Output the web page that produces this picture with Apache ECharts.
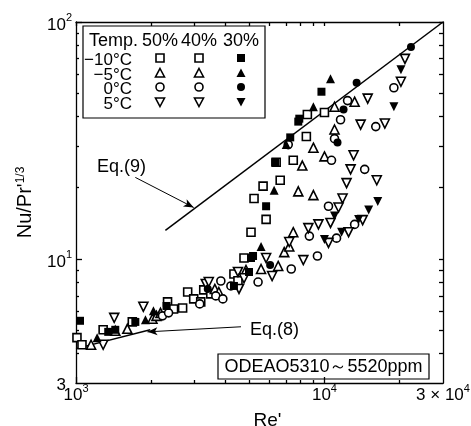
<!DOCTYPE html>
<html><head><meta charset="utf-8">
<script src="https://cdn.jsdelivr.net/npm/echarts@6/dist/echarts.min.js"></script>
<style>html,body{margin:0;padding:0;background:#fff}#c{width:471px;height:426px}</style>
</head><body><div id="c"></div>
<script>
// ---- axis ticks / labels ----
const xMajor = [1000, 10000];
const xMinor = [2000, 3000, 4000, 5000, 6000, 7000, 8000, 9000, 20000];
const xLabelVals = [1000, 10000, 30000];
const yMajor = [10, 100];
const yMinor = [4, 5, 6, 7, 8, 9, 20, 30, 40, 50, 60, 70, 80, 90];
const yLabelVals = [3, 10, 100];

// ---- legend content ----
const tempLabels = ['\u221210\u00b0C', '\u22125\u00b0C', '0\u00b0C', '5\u00b0C'];
const concLabels = ['50%', '40%', '30%'];

// ---- data [Re', Nu/Pr'^(1/3)] ----
// -10 °C, 50 % / 40 % (open squares)
const sqOpen = [[1009,4.66],[1057,4.35],[1286,5.03],[1685,5.43],[2336,6.60],[2470,6.16],[2686,6.22],[2815,7.26],[2977,6.79],[3177,6.60],[3267,7.41],[3487,7.13],[4322,8.65],[4486,8.1],[4744,10.1],[5063,12.98],[5207,18.0],[5662,20.3],[5823,14.7],[6392,25.6],[6635,21.5],[7489,26.1],[8455,32.9],[8535,40.7],[10000,41.5]];
// -10 °C, 30 % (filled squares)
const sqFilled = [[1038,5.49],[1348,4.93],[1439,5.03],[1733,5.43],[2314,6.34],[4322,7.70],[4970,8.82],[5063,10.1],[5159,10.3],[5823,16.7],[6333,25.6],[7282,32.6],[7846,38.0],[7920,39.1],[9725,50.8]];
// -5 °C, 50 % / 40 % (open triangles)
const triOpen = [[1150,4.35],[1439,4.98],[1609,5.08],[2031,5.60],[2108,5.76],[2188,5.93],[3620,7.48],[3758,7.26],[4833,8.99],[5557,9.08],[6513,9.35],[6887,10.7],[7215,11.3],[7489,12.98],[7846,19.3],[8144,24.8],[9026,29.5],[9026,18.6],[10000,27.1],[10977,35.2],[10977,43.9],[13225,46.1]];
// -5 °C, 30 % (filled triangles)
const triFilled = [[1216,4.66],[1903,5.54],[2050,6.05],[5557,11.3],[6274,19.5],[7017,30.4],[9026,43.9],[10576,57.6]];
// 0 °C, 50 % / 40 % (open circles)
const cirOpen = [[2229,5.76],[2358,5.93],[3148,6.47],[3654,6.99],[3828,8.08],[3900,6.79],[4202,7.70],[5405,8.00],[7149,30.4],[7351,9.08],[8695,12.5],[9369,10.3],[10380,16.7],[10674,26.1],[10977,32.2],[11183,12.25],[11608,38.7],[12388,46.6],[13225,14.0],[14516,23.9],[16088,36.2],[19029,52.8]];
// 0 °C, 30 % (filled circles)
const cirFilled = [[3391,7.48],[6044,9.44],[11287,31.0],[11935,42.7],[13474,55.4],[22295,78.5]];
// 5 °C, 50 % / 40 % (open down-triangles)
const dtriOpen = [[1286,4.35],[1425,5.65],[1867,6.29],[3329,7.85],[3423,8.00],[4486,8.82],[4529,7.48],[4744,8.3],[5823,10.1],[6158,8.48],[7215,11.8],[8222,9.90],[8614,13.5],[9456,14.0],[10380,11.7],[10576,14.2],[11394,16.5],[11826,18.0],[12274,20.9],[12505,12.98],[12740,23.9],[13100,27.4],[13984,36.9],[14247,14.6],[14929,47.5],[16237,21.5],[17503,37.3],[20312,55.96],[21084,69.9]];
// 5 °C, 30 % (filled down-triangles)
const dtriFilled = [[10000,12.1],[10977,15.2],[11715,12.98],[13728,14.7],[15068,16.1],[16389,17.5],[19029,43.9],[20312,62.9]];

// ---- correlation lines and their pointer arrows ----
const eq9 = [[2290, 13.2], [30000, 100]];
const eq8 = [[1000, 4.19], [1990, 5.03]];
const eq9Arrow = [[1733, 22.1], [2977, 16.5]];
const eq8Arrow = [[4613, 5.18], [1939, 4.93]];

const FONT = '"Liberation Sans", Arial, sans-serif';
const chart = echarts.init(document.getElementById('c'), null, {renderer: 'canvas'});

function fmt(v) {
  const e = Math.round(Math.log10(v));
  if (Math.abs(Math.pow(10, e) - v) < 1e-6 * v) return '{b|10}{s|' + e + '}';
  const exp = Math.floor(Math.log10(v) + 1e-9);
  if (exp < 1) return '{c|' + v + '}';
  const m = Math.round(v / Math.pow(10, exp));
  return '{b|' + m + ' \u00d7 10}{s|' + exp + '}';
}
const rich = {
  b: {fontSize: 17, fontFamily: FONT, color: '#000', verticalAlign: 'bottom', padding: [6, 0, 0, 0]},
  c: {fontSize: 17, fontFamily: FONT, color: '#000', verticalAlign: 'bottom', padding: [5, 6, 0, 0]},
  s: {fontSize: 11, fontFamily: FONT, color: '#000', verticalAlign: 'bottom', padding: [0, 0, 10, 0]}
};
const nameRich = {
  s: {fontSize: 12, fontFamily: FONT, color: '#000', verticalAlign: 'bottom', padding: [0, 0, 9, 0]}
};
const lineStyle = {color: '#000', width: 1.3};

function scat(name, data, symbol, filled, rotate, size) {
  return {
    type: 'scatter', name: name, data: data, symbol: symbol, symbolSize: size,
    symbolRotate: rotate || 0,
    itemStyle: {color: filled ? '#000' : '#fff', borderColor: '#000', borderWidth: filled ? 0 : 1.6, opacity: 1},
    emphasis: {disabled: true}, animation: false, z: filled ? 4 : 3
  };
}

function xAx(extra) {
  return Object.assign({type: 'log', logBase: 10, min: 1000, max: 30000, gridIndex: 0,
    splitLine: {show: false}, axisLine: {show: false}, axisLabel: {show: false}, axisTick: {show: false}}, extra);
}
function yAx(extra) {
  return Object.assign({type: 'log', logBase: 10, min: 3, max: 100, gridIndex: 0,
    splitLine: {show: false}, axisLine: {show: false}, axisLabel: {show: false}, axisTick: {show: false}}, extra);
}

// legend graphics
const legendX = [160, 199, 241];
const legendRowY = [58, 73, 87, 102];
const legendSym = ['rect', 'tri', 'circle', 'dtri'];
function legendMarker(kind, cx, cy, filled) {
  const style = {fill: filled ? '#000' : '#fff', stroke: '#000', lineWidth: filled ? 0 : 1.6};
  if (kind === 'rect') return {type: 'rect', shape: {x: cx - 4, y: cy - 4, width: 8, height: 8}, style};
  if (kind === 'circle') return {type: 'circle', shape: {cx: cx, cy: cy, r: 4}, style};
  if (kind === 'tri') return {type: 'polygon', shape: {points: [[cx, cy - 4.5], [cx + 4.5, cy + 4], [cx - 4.5, cy + 4]]}, style};
  return {type: 'polygon', shape: {points: [[cx, cy + 4.5], [cx + 4.5, cy - 4], [cx - 4.5, cy - 4]]}, style};
}
const legendEls = [
  {type: 'rect', shape: {x: 83, y: 26, width: 182, height: 92}, style: {fill: '#fff', stroke: '#000', lineWidth: 1.2}},
  {type: 'text', x: 89, y: 41, style: {text: 'Temp.', font: '18px ' + FONT, fill: '#000', verticalAlign: 'middle'}}
];
concLabels.forEach((c, i) => legendEls.push({type: 'text', x: legendX[i], y: 41,
  style: {text: c, font: '18px ' + FONT, fill: '#000', align: 'center', verticalAlign: 'middle'}}));
tempLabels.forEach((t, r) => {
  legendEls.push({type: 'text', x: 132, y: legendRowY[r] + 2,
    style: {text: t, font: '17px ' + FONT, fill: '#000', align: 'right', verticalAlign: 'middle'}});
  legendX.forEach((x, i) => legendEls.push(legendMarker(legendSym[r], x, legendRowY[r], i === 2)));
});

const option = {
  backgroundColor: '#fff',
  animation: false,
  grid: {left: 76, right: 28, top: 22, bottom: 43, outerBoundsMode: 'none', containLabel: false},
  xAxis: [
    xAx({position: 'bottom', axisLine: {show: true, lineStyle: lineStyle},
      axisTick: {show: true, inside: true, length: 6, customValues: xMajor, lineStyle: lineStyle},
      axisLabel: {show: true, customValues: xLabelVals, formatter: fmt, color: '#000', fontSize: 17, fontFamily: FONT, margin: -2, rich: rich},
      name: "Re'", nameLocation: 'middle', nameGap: 28,
      nameTextStyle: {fontSize: 19, fontFamily: FONT, color: '#000', padding: [0, 0, 0, 16], verticalAlign: 'top'}}),
    xAx({position: 'bottom', axisTick: {show: true, inside: true, length: 3, customValues: xMinor, lineStyle: lineStyle}}),
    xAx({position: 'top', axisLine: {show: true, lineStyle: lineStyle},
      axisTick: {show: true, inside: true, length: 4, customValues: xMajor.concat(xMinor), lineStyle: lineStyle}})
  ],
  yAxis: [
    yAx({position: 'left', axisLine: {show: true, lineStyle: lineStyle},
      axisTick: {show: true, inside: true, length: 6, customValues: yMajor, lineStyle: lineStyle},
      axisLabel: {show: true, customValues: yLabelVals, formatter: fmt, color: '#000', fontSize: 17, fontFamily: FONT, margin: 4, rich: rich},
      name: "Nu/Pr'{s|1/3}", nameLocation: 'middle', nameGap: 40, nameRotate: 90,
      nameTextStyle: {fontSize: 20, fontFamily: FONT, color: '#000', rich: nameRich}}),
    yAx({position: 'left', axisTick: {show: true, inside: true, length: 3, customValues: yMinor, lineStyle: lineStyle}}),
    yAx({position: 'right', axisLine: {show: true, lineStyle: lineStyle},
      axisTick: {show: true, inside: true, length: 4, customValues: yMajor.concat(yMinor), lineStyle: lineStyle}})
  ],
  series: [
    {type: 'line', name: 'Eq.(9)', data: eq9, symbol: 'none', lineStyle: {color: '#000', width: 1.5}, z: 2,
      markLine: {silent: true, symbol: ['none', 'arrow'], symbolSize: [6, 10], label: {show: false},
        lineStyle: {color: '#000', width: 1, type: 'solid'}, animation: false,
        data: [[{coord: eq9Arrow[0]}, {coord: eq9Arrow[1]}]]}},
    {type: 'line', name: 'Eq.(8)', data: eq8, symbol: 'none', lineStyle: {color: '#000', width: 1.5}, z: 2,
      markLine: {silent: true, symbol: ['none', 'arrow'], symbolSize: [6, 10], label: {show: false},
        lineStyle: {color: '#000', width: 1, type: 'solid'}, animation: false,
        data: [[{coord: eq8Arrow[0]}, {coord: eq8Arrow[1]}]]}},
    scat('-10\u00b0C 50/40%', sqOpen, 'rect', false, 0, 8),
    scat('-5\u00b0C 50/40%', triOpen, 'triangle', false, 0, 9),
    scat('0\u00b0C 50/40%', cirOpen, 'circle', false, 0, 8),
    scat('5\u00b0C 50/40%', dtriOpen, 'triangle', false, 180, 9),
    scat('-10\u00b0C 30%', sqFilled, 'rect', true, 0, 8),
    scat('-5\u00b0C 30%', triFilled, 'triangle', true, 0, 9),
    scat('0\u00b0C 30%', cirFilled, 'circle', true, 0, 8),
    scat('5\u00b0C 30%', dtriFilled, 'triangle', true, 180, 9)
  ],
  graphic: legendEls.concat([
    {type: 'text', x: 97, y: 167, style: {text: 'Eq.(9)', font: '18px ' + FONT, fill: '#000', verticalAlign: 'middle'}},
    {type: 'text', x: 250, y: 330, style: {text: 'Eq.(8)', font: '18px ' + FONT, fill: '#000', verticalAlign: 'middle'}},
    {type: 'rect', shape: {x: 218, y: 354, width: 211, height: 25}, style: {fill: '#fff', stroke: '#000', lineWidth: 1.2}},
    {type: 'text', x: 323.5, y: 367, style: {text: 'ODEAO5310\uff5e5520ppm', font: '18px ' + FONT, fill: '#000', align: 'center', verticalAlign: 'middle'}}
  ])
};
chart.setOption(option);
</script>
</body></html>
